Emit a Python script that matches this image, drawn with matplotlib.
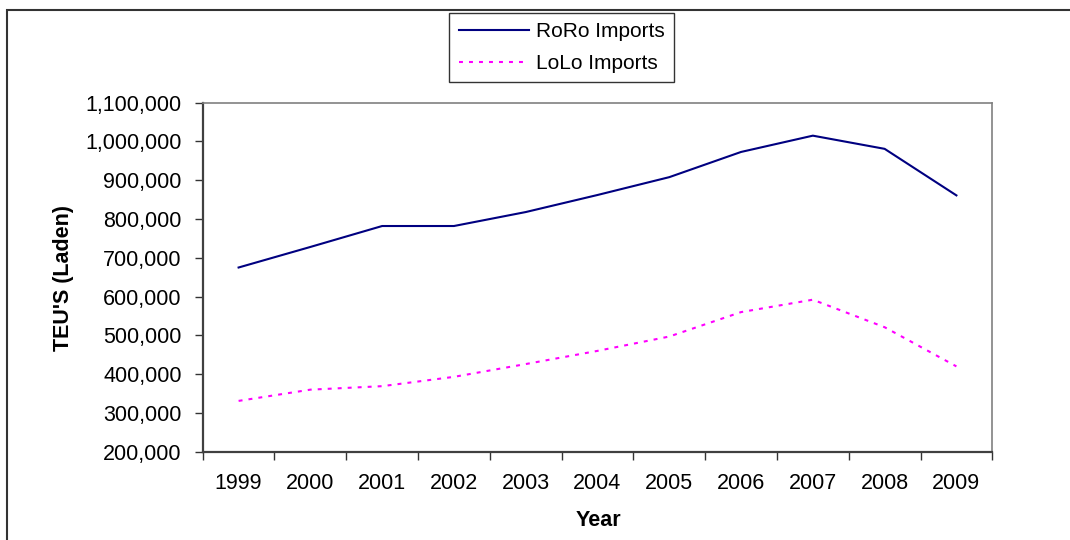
import matplotlib
matplotlib.use("Agg")
import matplotlib.pyplot as plt
from matplotlib.patches import Rectangle
from matplotlib.ticker import FuncFormatter, FixedLocator, NullFormatter

plt.rcParams['font.family'] = ['Liberation Sans', 'DejaVu Sans']

years = ['1999', '2000', '2001', '2002', '2003', '2004',
         '2005', '2006', '2007', '2008', '2009']
roro_imports = [675000, 728000, 782000, 782000, 818000, 862000,
                908000, 973000, 1015000, 981000, 861000]
lolo_imports = [331000, 360000, 369000, 393000, 426000, 460000,
                497000, 560000, 592000, 521000, 420000]
y_ticks = list(range(200000, 1100001, 100000))

fig = plt.figure(figsize=(10.7, 5.4), dpi=100)
ax = fig.add_axes([202.7 / 1070, 1 - 451.7 / 540,
                   (992.3 - 202.7) / 1070, (451.7 - 102.7) / 540])

# outer chart frame (runs off the right and bottom edges)
fig.patches.append(Rectangle((7 / 1070, -0.2), 1.2, 1.2 - 10 / 540,
                             transform=fig.transFigure, fill=False,
                             edgecolor='#333333', linewidth=1.5))

x = list(range(len(years)))
ax.plot(x, roro_imports, color='#000080', linewidth=1.5, label='RoRo Imports')
ax.plot(x, lolo_imports, color='#FF00FF', linewidth=1.5,
        dashes=(1.9, 2.9), label='LoLo Imports')

ax.set_xlim(-0.5, len(years) - 0.5)
ax.set_ylim(200000, 1100000)
ax.set_yticks(y_ticks)
ax.yaxis.set_major_formatter(FuncFormatter(lambda v, p: f'{int(v):,}'))

# category boundaries get the tick marks, labels sit in the middle
ax.xaxis.set_major_locator(FixedLocator([i - 0.5 for i in range(len(years) + 1)]))
ax.xaxis.set_major_formatter(NullFormatter())
ax.xaxis.set_minor_locator(FixedLocator(x))
ax.set_xticklabels(years, minor=True)
ax.tick_params(axis='x', which='minor', length=0, labelsize=15.5, pad=15)
ax.tick_params(axis='x', which='major', length=6, width=1, color='#333333')
ax.tick_params(axis='y', length=6, width=1, color='#333333', labelsize=15.5, pad=9)

for side in ('left', 'bottom'):
    ax.spines[side].set_color('#404040')
    ax.spines[side].set_linewidth(1.6)
for side in ('top', 'right'):
    ax.spines[side].set_color('#808080')
    ax.spines[side].set_linewidth(1.2)

fig.text(64 / 1070, 1 - 278 / 540, "TEU'S (Laden)", rotation=90,
         ha='center', va='center', fontsize=15.5, fontweight='bold')
fig.text(598 / 1070, 1 - 520 / 540, 'Year', ha='center', va='center',
         fontsize=15.5, fontweight='bold')

leg = ax.legend(loc='upper center', bbox_to_anchor=(561.5 / 1070, 1 - 13 / 540),
                bbox_transform=fig.transFigure, fontsize=15, frameon=True,
                fancybox=False, edgecolor='black', handlelength=3.4,
                handletextpad=0.3, labelspacing=0.6, borderpad=0.45,
                borderaxespad=0)
leg.get_frame().set_linewidth(1.0)

fig.savefig('out.png', dpi=100, facecolor='white')
